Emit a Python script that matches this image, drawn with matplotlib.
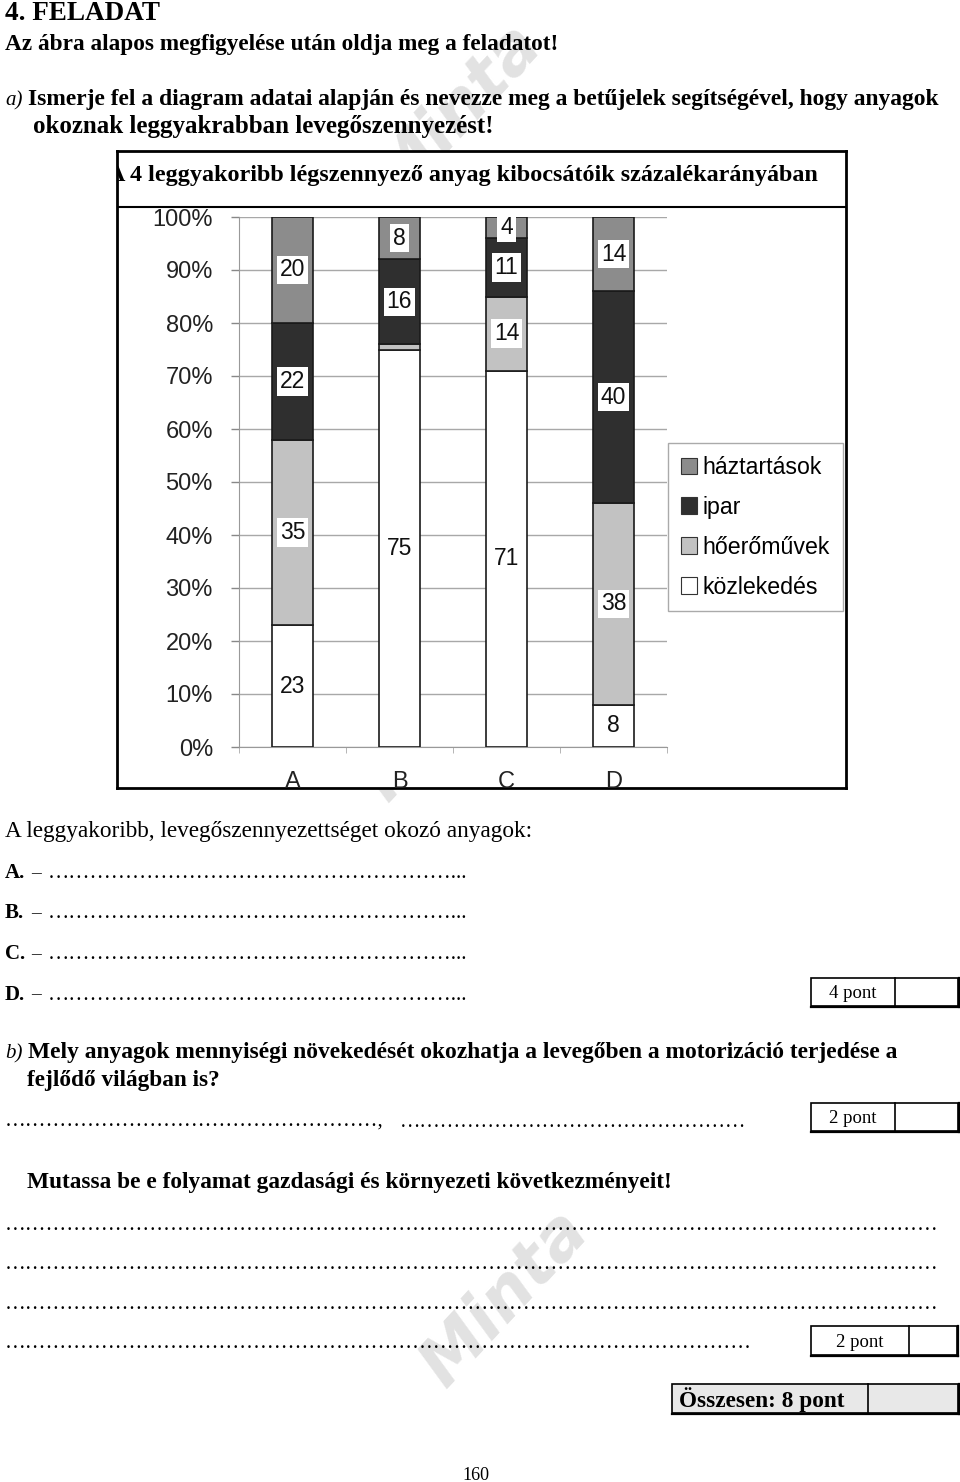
import numpy as np
import matplotlib
matplotlib.use("Agg")
import matplotlib.pyplot as plt
from matplotlib.patches import Rectangle, Patch
from matplotlib import transforms

# adatok (alulrol felfele halmozva)
CATS = ['A', 'B', 'C', 'D']
KOZLEKEDES = [23, 75, 71, 8]
HOEROMUVEK = [35, 1, 14, 38]
IPAR = [22, 16, 11, 40]
HAZTARTASOK = [20, 8, 4, 14]
SERIES_NAMES = ['közlekedés', 'hőerőművek', 'ipar', 'háztartások']
SERIES_COLORS = ['#ffffff', '#c2c2c2', '#2f2f2f', '#8c8c8c']
YTICKS = [0, 10, 20, 30, 40, 50, 60, 70, 80, 90, 100]

TITLE = 'A 4 leggyakoribb légszennyező anyag kibocsátóik százalékarányában'

W, H = 960, 1482
fig = plt.figure(figsize=(W / 100, H / 100), dpi=100)
renderer = fig.canvas.get_renderer()

SERIF = 'Liberation Serif'
SANS = 'Liberation Sans'


def px_box(x0, y0, x1, y1):
    # pixel (bal-felso origo) -> figure coords
    return [x0 / W, 1 - y1 / H, (x1 - x0) / W, (y1 - y0) / H]


def fit(t, width):
    bb = t.get_window_extent(renderer)
    t.set_fontsize(t.get_fontsize() * width / bb.width)
    return t


# ---- lap (szoveg, dobozok, vizjel) ----
page = fig.add_axes([0, 0, 1, 1], zorder=0)
page.set_xlim(0, W)
page.set_ylim(H, 0)
page.axis('off')

# vizjel
for cx, cy in [(458, 112), (447, 712), (505, 1298)]:
    page.text(cx, cy, 'Minta', rotation=47, fontsize=48, color='#e2e2e2',
              weight='bold', style='italic', family='DejaVu Sans',
              ha='center', va='center', rotation_mode='anchor', zorder=1)


def ptext(x, y, s, w=None, weight='normal', style='normal', size=14, ha='left'):
    t = page.text(x, y, s, family=SERIF, weight=weight, style=style,
                  fontsize=size, ha=ha, va='baseline', color='black', zorder=3)
    if w:
        fit(t, w)
    return t


ptext(5, 20, '4. FELADAT', 155, weight='bold')
ptext(5, 50, 'Az ábra alapos megfigyelése után oldja meg a feladatot!', 555, weight='bold')
ptext(5, 105, 'a)', style='italic', size=15)
ptext(28, 105, 'Ismerje fel a diagram adatai alapján és nevezze meg a betűjelek segítségével, hogy anyagok',
      916, weight='bold')
ptext(33, 133, 'okoznak leggyakrabban levegőszennyezést!', 462, weight='bold')

ptext(5, 837, 'A leggyakoribb, levegőszennyezettséget okozó anyagok:', 530)
for i, letter in enumerate(CATS):
    yb = 878 + i * 40.5
    ptext(5, yb, letter + '.', weight='bold', size=15)
    ptext(31, yb, '–', size=14)
    ptext(48, yb, '…' * 19 + '...', 420)

ptext(5, 1058, 'b)', style='italic', size=15)
ptext(28, 1058, 'Mely anyagok mennyiségi növekedését okozhatja a levegőben a motorizáció terjedése a',
      872, weight='bold')
ptext(27, 1086, 'fejlődő világban is?', 193, weight='bold')
ptext(5, 1127, '…' * 18 + ',', 380)
ptext(400, 1127, '…' * 17, 348)
ptext(27, 1188, 'Mutassa be e folyamat gazdasági és környezeti következményeit!', 648, weight='bold')
for yb in [1230, 1269, 1309]:
    ptext(5, yb, '…' * 45, 938)
ptext(5, 1348, '…' * 36, 749)


def pont_box(x0, y0, x1, y1, xdiv, label, fill='white', bold=False, size=13.5):
    page.add_patch(Rectangle((x0, y0), x1 - x0, y1 - y0, facecolor=fill,
                             edgecolor='black', lw=1.2, zorder=2))
    page.plot([xdiv, xdiv], [y0, y1], color='black', lw=1.2, zorder=2)
    page.plot([x0, x1 + 1], [y1 + 1, y1 + 1], color='black', lw=1.6, zorder=2)
    page.plot([x1 + 1, x1 + 1], [y0, y1 + 1], color='black', lw=1.6, zorder=2)
    if bold:
        ptext(x0 + 7, y1 - 6, label, 166, weight='bold')
    else:
        ptext((x0 + xdiv) / 2, y1 - 8, label, size=size, ha='center')


pont_box(811, 978, 958, 1006, 895, '4 pont')
pont_box(811, 1103, 958, 1131, 895, '2 pont')
pont_box(811, 1326, 957, 1355, 909, '2 pont')
pont_box(672, 1384, 958, 1413, 868, 'Összesen: 8 pont', fill='#e8e8e8', bold=True)
ptext(476, 1480, '160', size=13, ha='center')

# ---- diagram keret ----
frame = fig.add_axes(px_box(117, 151, 846, 788), zorder=1)
frame.set_xlim(0, 1)
frame.set_ylim(0, 1)
frame.set_xticks([])
frame.set_yticks([])
frame.set_facecolor('white')
for s in frame.spines.values():
    s.set_linewidth(2)
    s.set_color('black')
frame.axhline((788 - 207) / 637, color='black', lw=1.5)
tt = frame.text((108 - 117) / 729, (788 - 181) / 637, TITLE, family=SERIF, weight='bold',
                fontsize=18, va='baseline', ha='left', clip_on=True)
fit(tt, 710)

# ---- oszlopok ----
ax = fig.add_axes(px_box(239, 217, 667, 747), zorder=2)
ax.patch.set_alpha(0)
x = np.arange(len(CATS))
series = [KOZLEKEDES, HOEROMUVEK, IPAR, HAZTARTASOK]
bottom = np.zeros(len(CATS))
for vals, name, col in zip(series, SERIES_NAMES, SERIES_COLORS):
    vals = np.array(vals, dtype=float)
    ax.bar(x, vals, bottom=bottom, width=0.39, color=col, edgecolor='#1a1a1a',
           linewidth=1.2, zorder=3, label=name)
    for xi, v, b in zip(x, vals, bottom):
        if v < 3:
            continue
        box = None if col == '#ffffff' else dict(facecolor='white', edgecolor='none', pad=2)
        ax.text(xi, b + v / 2, str(int(v)), ha='center', va='center', fontsize=16.5,
                family=SANS, color='#111111', bbox=box, zorder=5)
    bottom += vals

ax.set_xlim(-0.5, 3.5)
ax.set_ylim(0, 100)
ax.set_yticks(YTICKS)
ax.set_yticklabels([str(v) + '%' for v in YTICKS], family=SANS, fontsize=17, color='#222222')
ax.tick_params(axis='y', length=5.8, width=1, color='#888888', pad=13)
ax.set_xticks(x)
ax.set_xticklabels([])
ax.tick_params(axis='x', which='major', length=0)
ax.set_xticks([-0.5, 0.5, 1.5, 2.5, 3.5], minor=True)
ax.tick_params(axis='x', which='minor', length=4, color='#aaaaaa')
ax.grid(axis='y', color='#a8a8a8', lw=1)
ax.set_axisbelow(True)
for k in ['top', 'right']:
    ax.spines[k].set_visible(False)
ax.spines['left'].set_color('#999999')
ax.spines['bottom'].set_color('#999999')

# kategoria betuk (a keret also vonala levagja)
tr = transforms.blended_transform_factory(ax.transData, frame.transAxes)
for xi, c in zip(x, CATS):
    frame.text(xi, (788 - 788) / 637, c, transform=tr, ha='center', va='baseline',
               fontsize=17, family=SANS, color='#222222', clip_on=True)

# jelmagyarazat
handles = [Patch(facecolor=c, edgecolor='#333333', lw=0.8, label=n)
           for n, c in zip(SERIES_NAMES, SERIES_COLORS)][::-1]
leg = ax.legend(handles=handles, loc='upper left', bbox_to_anchor=(668 / W, 1 - 443 / H),
                bbox_transform=fig.transFigure, borderaxespad=0, fancybox=False,
                edgecolor='#aaaaaa', framealpha=1, prop=dict(family=SANS, size=16.7),
                handlelength=0.7, handleheight=0.7, handletextpad=0.25,
                labelspacing=0.73, borderpad=0.55)
leg.get_frame().set_linewidth(1)

fig.savefig('out.png', dpi=100)
